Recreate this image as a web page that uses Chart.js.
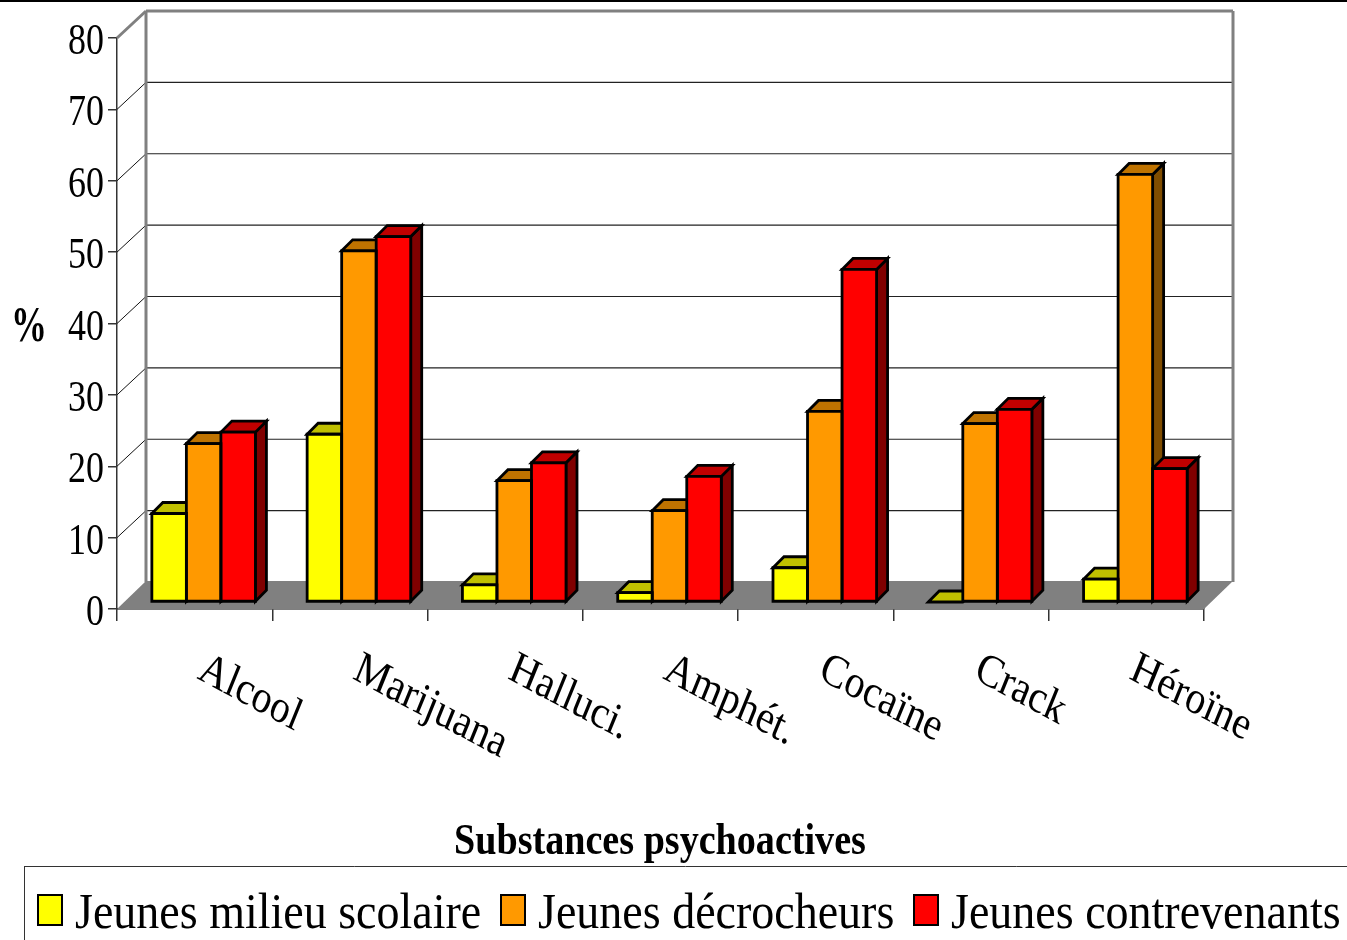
<!DOCTYPE html>
<html>
<head>
<meta charset="utf-8">
<title>Substances psychoactives</title>
<script src="https://cdn.jsdelivr.net/npm/chart.js@4/dist/chart.umd.min.js"></script>
<style>
    html, body { margin: 0; padding: 0; background: #fff; }
    #wrap { position: relative; width: 1347px; height: 940px; overflow: hidden; }
</style>
</head>
<body>
<div id="wrap"><canvas id="chart" width="1347" height="940"></canvas></div>
<script>
const categories = ['Alcool', 'Marijuana', 'Halluci.', 'Amphét.', 'Cocaïne', 'Crack', 'Héroïne'];
const milieuScolaire = [12.4, 23.5, 2.4, 1.3, 4.8, 0, 3.2];
const decrocheurs = [22.2, 49.2, 17, 12.8, 26.7, 25, 59.9];
const contrevenants = [23.8, 51.2, 19.5, 17.6, 46.6, 27, 18.7];
const seriesNames = ['Jeunes milieu scolaire', 'Jeunes décrocheurs', 'Jeunes contrevenants'];
const yTicks = [0, 10, 20, 30, 40, 50, 60, 70, 80];
const xTitle = 'Substances psychoactives';
const yTitle = '%';

// couleurs : face, dessus, côté
const faces = ['#ffff00', '#ff9900', '#ff0000'];
const tops = ['#c0c000', '#bf7300', '#c00000'];
const sides = ['#808000', '#804d00', '#800000'];

const SERIF = '"Liberation Serif"';
const WALL_DX = 29, WALL_DY = 27;   // profondeur du plancher
const BAR_DX = 9, BAR_DY = 7;       // décalage des barres sur le plancher
const DEPTH_DX = 11, DEPTH_DY = 11; // profondeur des barres
const OUTLINE = 2.8;

// le texte de l'original est comprimé en largeur
function squeezedText(ctx, text, x, y, font, opts = {}) {
    ctx.save();
    ctx.translate(x, y);
    ctx.scale(opts.sx || 0.82, 1);
    if (opts.angle) ctx.rotate(opts.angle);
    ctx.font = font;
    ctx.fillStyle = '#000';
    ctx.textAlign = opts.align || 'left';
    ctx.textBaseline = opts.baseline || 'alphabetic';
    ctx.fillText(text, 0, 0);
    ctx.restore();
}

function poly(ctx, pts, fill, stroke, width) {
    ctx.beginPath();
    pts.forEach((p, i) => i ? ctx.lineTo(p[0], p[1]) : ctx.moveTo(p[0], p[1]));
    ctx.closePath();
    if (fill) { ctx.fillStyle = fill; ctx.fill(); }
    if (stroke) {
        ctx.strokeStyle = stroke;
        ctx.lineWidth = width;
        ctx.lineJoin = 'miter';
        ctx.stroke();
    }
}

function line(ctx, x1, y1, x2, y2, color, width) {
    ctx.beginPath();
    ctx.moveTo(x1, y1);
    ctx.lineTo(x2, y2);
    ctx.strokeStyle = color;
    ctx.lineWidth = width;
    ctx.stroke();
}

// Parois, plancher et grille du fond, puis côtés et dessus des barres
const wallPlugin = {
    id: 'wall',
    beforeDatasetsDraw(chart) {
        const { ctx, chartArea: a, scales: { y } } = chart;
        ctx.save();
        const top = y.getPixelForValue(80), bottom = y.getPixelForValue(0);
        yTicks.slice(1, -1).forEach(v => {
            const py = y.getPixelForValue(v);
            line(ctx, a.left, py, a.left + WALL_DX, py - WALL_DY, '#111', 1);
            line(ctx, a.left + WALL_DX, py - WALL_DY, a.right + WALL_DX, py - WALL_DY, '#222', 1.2);
        });
        poly(ctx, [[a.left, bottom], [a.left + WALL_DX, bottom - WALL_DY - 1],
            [a.right + WALL_DX, bottom - WALL_DY - 1], [a.right, bottom]], '#808080');
        line(ctx, a.left, top, a.left + WALL_DX, top - WALL_DY, '#808080', 3);
        line(ctx, a.left + WALL_DX, top - WALL_DY, a.right + WALL_DX, top - WALL_DY, '#808080', 3);
        line(ctx, a.right + WALL_DX, top - WALL_DY, a.right + WALL_DX, bottom - WALL_DY, '#808080', 3);
        line(ctx, a.left + WALL_DX, top - WALL_DY, a.left + WALL_DX, bottom - WALL_DY, '#808080', 3);

        // de gauche à droite : les faces dessinées ensuite recouvrent les côtés
        ctx.translate(BAR_DX, -BAR_DY);
        chart.data.datasets.forEach((d, i) => {
            chart.getDatasetMeta(i).data.forEach(bar => {
                const l = bar.x - bar.width / 2, r = bar.x + bar.width / 2;
                const t = bar.y, b = bar.base;
                if (t < b) {
                    poly(ctx, [[r, t], [r + DEPTH_DX, t - DEPTH_DY], [r + DEPTH_DX, b - DEPTH_DY], [r, b]],
                        sides[i], '#000', OUTLINE);
                }
                poly(ctx, [[l, t], [l + DEPTH_DX, t - DEPTH_DY], [r + DEPTH_DX, t - DEPTH_DY], [r, t]],
                    tops[i], '#000', OUTLINE);
            });
        });
        ctx.restore();
    },
    beforeDatasetDraw(chart) {
        chart.ctx.save();
        chart.ctx.translate(BAR_DX, -BAR_DY);
    },
    afterDatasetDraw(chart) {
        chart.ctx.restore();
    },
    afterDatasetsDraw(chart) {
        const { ctx } = chart;
        ctx.save();
        ctx.translate(BAR_DX, -BAR_DY);
        chart.data.datasets.forEach((d, i) => {
            chart.getDatasetMeta(i).data.forEach(bar => {
                const l = bar.x - bar.width / 2, r = bar.x + bar.width / 2;
                if (bar.y < bar.base) {
                    poly(ctx, [[l, bar.y], [r, bar.y], [r, bar.base], [l, bar.base]], null, '#000', OUTLINE);
                }
            });
        });
        ctx.restore();
    }
};

// Étiquettes, titres et légende
const labelsPlugin = {
    id: 'labels',
    afterDraw(chart) {
        const { ctx, scales: { x, y }, data: { datasets } } = chart;
        ctx.save();
        ctx.fillStyle = '#000';
        ctx.fillRect(0, 0, 1347, 2);

        y.ticks.forEach((t, i) => {
            squeezedText(ctx, String(t.value), 104, y.getPixelForTick(i) + 16, '45px ' + SERIF, { sx: 0.8, align: 'right' });
        });
        categories.forEach((c, i) => {
            squeezedText(ctx, c, x.getPixelForTick(i) + 6, 667, '46px ' + SERIF,
                { sx: 0.87, angle: 25 * Math.PI / 180, baseline: 'middle' });
        });

        squeezedText(ctx, xTitle, 660, 854, 'bold 44px ' + SERIF, { sx: 0.866, align: 'center' });
        squeezedText(ctx, yTitle, 29, 341, 'bold 50px ' + SERIF, { sx: 0.72, align: 'center' });

        // légende
        line(ctx, 24, 866.5, 1347, 866.5, '#333', 1);
        line(ctx, 24.5, 866, 24.5, 940, '#333', 1);
        const swatchX = [38, 501, 914];
        const textX = [75, 538, 951];
        datasets.forEach((d, i) => {
            poly(ctx, [[swatchX[i], 895], [swatchX[i] + 24, 895], [swatchX[i] + 24, 925], [swatchX[i], 925]],
                d.backgroundColor, '#000', 2);
            squeezedText(ctx, d.label, textX[i], 928, '50px ' + SERIF, { sx: 0.92 });
        });
        ctx.restore();
    }
};

const chart = new Chart(document.getElementById('chart'), {
    type: 'bar',
    data: {
        labels: categories,
        datasets: [milieuScolaire, decrocheurs, contrevenants].map((values, i) => ({
            label: seriesNames[i],
            data: values,
            backgroundColor: faces[i],
            borderWidth: 0,
            barPercentage: 1,
            categoryPercentage: 0.667
        }))
    },
    options: {
        responsive: false,
        animation: false,
        layout: { padding: { left: 108, right: 143, top: 38, bottom: 319 } },
        plugins: { legend: { display: false }, tooltip: { enabled: false } },
        scales: {
            x: {
                grid: { drawOnChartArea: false, offset: true, tickLength: 12, color: '#333', lineWidth: 1.5 },
                border: { color: '#000', width: 1.5 },
                ticks: { display: false }
            },
            y: {
                min: 0,
                max: 80,
                afterBuildTicks: scale => { scale.ticks = yTicks.map(v => ({ value: v })); },
                grid: { drawOnChartArea: false, tickLength: 9, color: '#333', lineWidth: 1.5 },
                border: { color: '#333', width: 1.5 },
                ticks: { display: false }
            }
        }
    },
    plugins: [wallPlugin, labelsPlugin]
});
</script>
</body>
</html>
